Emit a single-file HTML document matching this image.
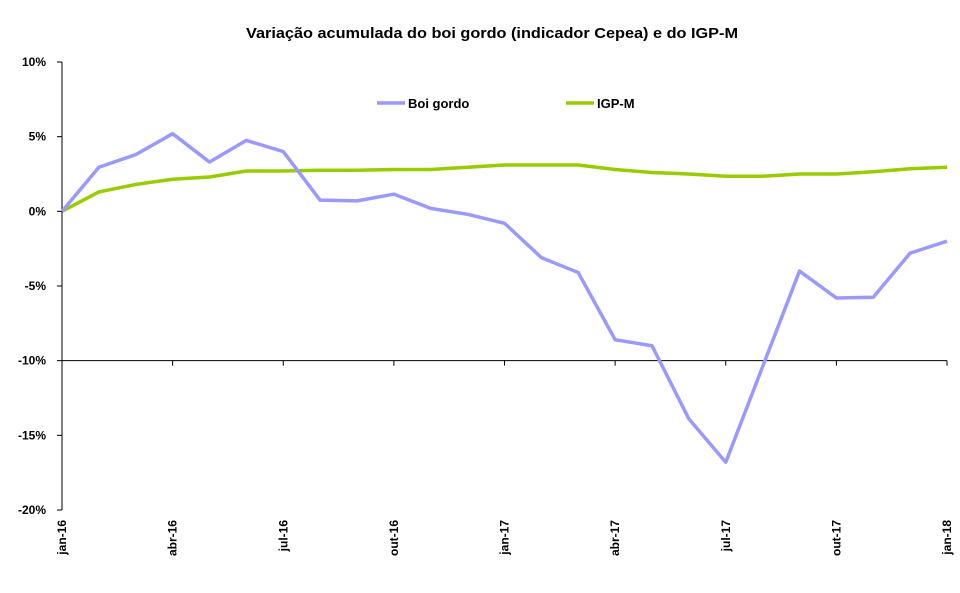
<!DOCTYPE html>
<html><head><meta charset="utf-8"><style>
body{margin:0;background:#fff;}
svg{display:block;font-family:"Liberation Sans",sans-serif;}
</style></head><body>
<svg id="chart" width="960" height="593" viewBox="0 0 960 593">
<text x="492" y="38" text-anchor="middle" font-size="15" font-weight="bold" fill="#000" textLength="492" lengthAdjust="spacingAndGlyphs">Variação acumulada do boi gordo (indicador Cepea) e do IGP-M</text>
<g id="axes"></g>
<g id="series"></g>
<g>
<line x1="377" y1="103" x2="405" y2="103" stroke="#9999ff" stroke-width="3.5"/>
<text x="408" y="108" font-size="13" font-weight="bold">Boi gordo</text>
<line x1="566" y1="103" x2="594" y2="103" stroke="#99cc00" stroke-width="3.5"/>
<text x="597" y="108" font-size="13" font-weight="bold">IGP-M</text>
</g>
</svg>
<script>
const categories = ["jan-16","fev-16","mar-16","abr-16","mai-16","jun-16","jul-16","ago-16","set-16","out-16","nov-16","dez-16","jan-17","fev-17","mar-17","abr-17","mai-17","jun-17","jul-17","ago-17","set-17","out-17","nov-17","dez-17","jan-18"];
const boiGordo = [0,2.95,3.8,5.2,3.3,4.75,4.0,0.75,0.7,1.15,0.2,-0.2,-0.8,-3.1,-4.1,-8.6,-9.0,-13.9,-16.8,-10.4,-4.0,-5.8,-5.75,-2.8,-2.0];
const igpm = [0,1.3,1.8,2.15,2.3,2.7,2.7,2.75,2.75,2.8,2.8,2.95,3.1,3.1,3.1,2.8,2.6,2.5,2.35,2.35,2.5,2.5,2.65,2.85,2.95];
const yTicks = [10,5,0,-5,-10,-15,-20];
const ns="http://www.w3.org/2000/svg";
const X0=62,X1=947,Y0=62,Y1=510,YMAX=10,YMIN=-20;
const xs=i=>X0+(X1-X0)*i/(categories.length-1);
const ys=v=>Y0+(YMAX-v)/(YMAX-YMIN)*(Y1-Y0);
function mk(tag,attrs,parent){const e=document.createElementNS(ns,tag);for(const k in attrs)e.setAttribute(k,attrs[k]);parent.appendChild(e);return e;}
const axes=document.getElementById('axes');
const yAxis=mk('line',{x1:X0,y1:Y0,x2:X0,y2:Y1,stroke:'#000','stroke-width':1},axes);


yTicks.forEach(t=>{
  const tk=mk('line',{x1:X0-5,y1:ys(t),x2:X0,y2:ys(t),stroke:'#000'},axes);
  
  
  const lb=mk('text',{x:X0-16,y:ys(t)+4,'text-anchor':'end','font-size':12,'font-weight':'bold'},axes);
  lb.textContent=t+'%';
  
  
});
const axisY=ys(-10);
const xAxis=mk('line',{x1:X0,y1:axisY,x2:X1,y2:axisY,stroke:'#000'},axes);


categories.forEach((c,i)=>{
  if(i%3!==0)return;
  const tk=mk('line',{x1:xs(i),y1:axisY,x2:xs(i),y2:axisY+5,stroke:'#000'},axes);
  
  
  const lb=mk('text',{x:0,y:0,'text-anchor':'end','font-size':12,'font-weight':'bold',transform:`translate(${xs(i)+4},520) rotate(-90)`},axes);
  lb.textContent=c;
  
  
});
const sg=document.getElementById('series');
function line(data,color,name){
  const p=mk('polyline',{points:data.map((v,i)=>xs(i)+','+ys(v)).join(' '),fill:'none',stroke:color,'stroke-width':3.5,'stroke-linejoin':'round'},sg);
  
  
}
line(igpm,'#99cc00','igpm-line');
line(boiGordo,'#9999ff','boi-gordo-line');
</script>
</body></html>
